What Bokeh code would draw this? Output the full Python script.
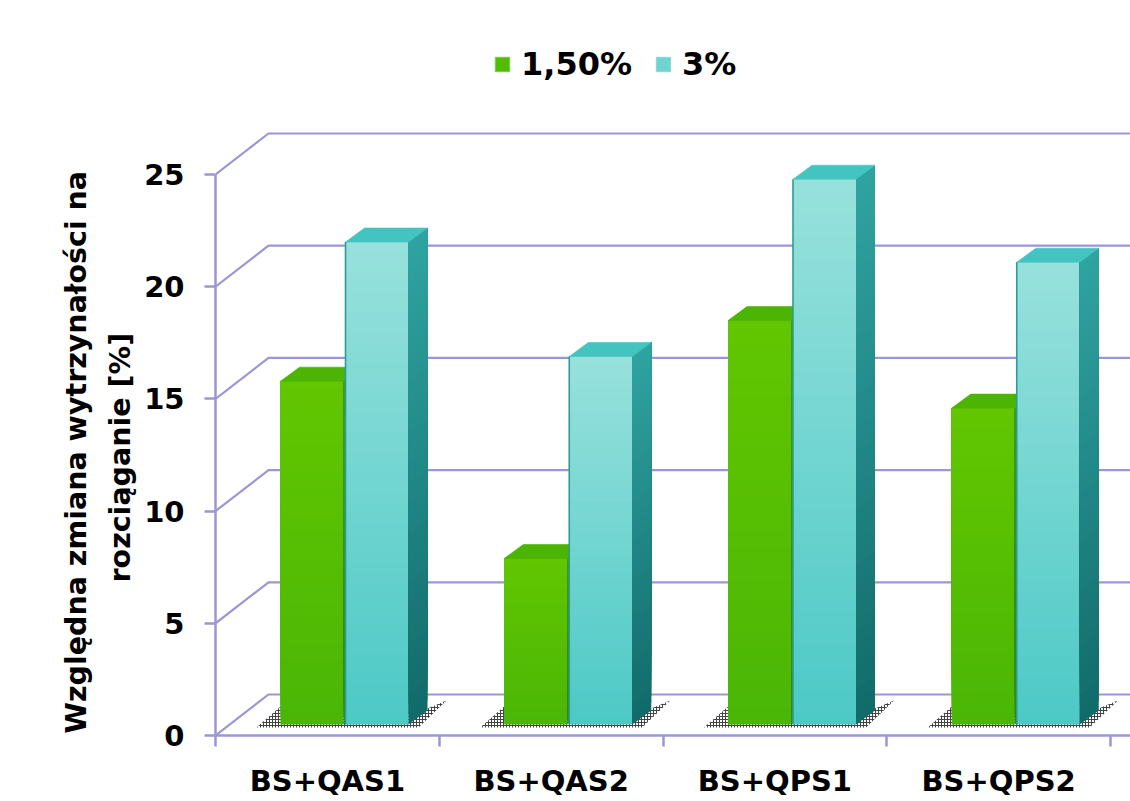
import numpy as np
from bokeh.embed import file_html
from bokeh.resources import INLINE
from bokeh.plotting import figure
from bokeh.models import (ColumnDataSource, FixedTicker, Legend, LegendItem,
                          LinearAxis, Range1d, Title)

categories = ["BS+QAS1", "BS+QAS2", "BS+QPS1", "BS+QPS2"]
series_names = ["1,50%", "3%"]
values_low = [15.3, 7.4, 18.0, 14.1]
values_high = [21.5, 16.4, 24.3, 20.6]
y_ticks = [0, 5, 10, 15, 20, 25]

AXIS = "#9b97d6"
W, H = 1130, 801
LEFT, BOTTOM = 215, 66
UX, UY = 223.75, 22.44          # pixels per category / per value unit
frame_w, frame_h = W - LEFT, H - BOTTOM

p = figure(width=W, height=H, output_backend="svg", toolbar_location=None,
           x_range=Range1d(0, frame_w / UX), y_range=Range1d(0, frame_h / UY),
           x_axis_type=None, y_axis_type=None,
           min_border_left=LEFT, min_border_bottom=BOTTOM, min_border_top=0, min_border_right=0,
           outline_line_color=None, background_fill_color="white", border_fill_color="white")
p.grid.visible = False

# Chart depth of the box and of the bars, in data units
WALL_DX, WALL_DY = 53 / UX, 41 / UY
BAR_DX, BAR_DY = 19 / UX, 14 / UY
BASE_DY = 11 / UY
OFFSET_LOW, OFFSET_HIGH = 65 / UX, 130 / UX
BAR_W = 63 / UX

# Back wall lines and the diagonals running to the front
x_end = frame_w / UX
for t in y_ticks:
    p.line([0, WALL_DX, x_end], [t, t + WALL_DY, t + WALL_DY], line_color=AXIS, line_width=2.2)


def hexmix(a, b, f):
    ca = [int(a[i:i + 2], 16) for i in (1, 3, 5)]
    cb = [int(b[i:i + 2], 16) for i in (1, 3, 5)]
    return "#%02x%02x%02x" % tuple(round(u + (v - u) * f) for u, v in zip(ca, cb))


def floor_shadow(i):
    x0 = i + OFFSET_LOW
    x1 = i + OFFSET_HIGH + BAR_W
    y0 = BASE_DY
    xs = [x0 - 24 / UX, x0, x1 + BAR_DX, x1 + 38 / UX, x1 + 10 / UX]
    ys = [y0 - 3 / UY, y0 + 18 / UY, y0 + 16 / UY, y0 + 24 / UY, y0 - 3 / UY]
    p.patch(xs, ys, fill_alpha=0, line_alpha=0, hatch_pattern="cross", hatch_color="#444444",
            hatch_scale=3, hatch_weight=1)


def bar(x0, v, front, side, top_col, edge=None):
    """Draw one bar: overlapping shaded bands on front and side, then the top face."""
    n = 48
    levels = np.linspace(0, v, n + 1)
    f = np.linspace(0, 1, n)     # 0 at the foot of the bar, 1 at the head
    yt = BASE_DY + v
    xr = x0 + BAR_W
    fc = [hexmix(front[0], front[1], t) for t in f]
    src = ColumnDataSource(dict(left=[x0] * n, right=[xr] * n,
                                bottom=BASE_DY + levels[:-1], top=[yt] * n, c=fc))
    p.quad(left="left", right="right", bottom="bottom", top="top", source=src,
           fill_color="c", line_color=None)
    sc = [hexmix(side[0], side[1], t) for t in f]
    xs = [[xr, xr + BAR_DX, xr + BAR_DX, xr] for _ in range(n)]
    ys = [[BASE_DY + levels[k], BASE_DY + levels[k] + BAR_DY, yt + BAR_DY, yt] for k in range(n)]
    p.patches(xs, ys, fill_color=sc, line_color=None)
    p.patch([x0, xr, xr + BAR_DX, x0 + BAR_DX], [yt, yt, yt + BAR_DY, yt + BAR_DY],
            fill_color=top_col, line_color=top_col, line_width=0.6)
    if edge:
        p.line([x0, x0], [BASE_DY, yt], line_color=edge, line_width=1.6)


for i in range(len(categories)):
    floor_shadow(i)
for i in range(len(categories)):
    bar(i + OFFSET_LOW, values_low[i], ("#4ab606", "#62c600"),
        ("#2e8a08", "#3fa004"), "#4cb402")
    bar(i + OFFSET_HIGH, values_high[i], ("#4dc9c6", "#97e1dc"),
        ("#126b6b", "#2fa3a0"), "#44c4c0", edge="#2c9c98")

# Swatches for the legend: a row that falls outside the visible range, only the colour shows
swatch_low = p.quad(left=[-9], right=[-8], bottom=[0], top=[1], fill_color="#52bc02", line_color="#7cc850")
swatch_high = p.quad(left=[-9], right=[-8], bottom=[0], top=[1], fill_color="#6fd3cf", line_color="#8ad8d4")

# Axes
yaxis = LinearAxis(ticker=FixedTicker(ticks=y_ticks), bounds=(0, 25))
yaxis.axis_line_color = AXIS
yaxis.axis_line_width = 2.5
yaxis.major_tick_line_color = AXIS
yaxis.major_tick_line_width = 2.5
yaxis.major_tick_in = 0
yaxis.major_tick_out = 11
yaxis.minor_tick_line_color = None
yaxis.major_label_text_font = "DejaVu Sans"
yaxis.major_label_text_font_style = "bold"
yaxis.major_label_text_font_size = "29px"
yaxis.major_label_text_color = "black"
yaxis.major_label_standoff = 20
p.add_layout(yaxis, "left")

xaxis = LinearAxis(ticker=FixedTicker(ticks=[i + 0.5 for i in range(len(categories))],
                                      minor_ticks=list(range(len(categories) + 1))))
xaxis.major_label_overrides = {i + 0.5: c for i, c in enumerate(categories)}
xaxis.axis_line_color = AXIS
xaxis.axis_line_width = 2.5
xaxis.major_tick_line_color = None
xaxis.major_tick_out = 11
xaxis.minor_tick_line_color = AXIS
xaxis.minor_tick_line_width = 2.5
xaxis.minor_tick_in = 0
xaxis.minor_tick_out = 11
xaxis.major_label_text_font = "DejaVu Sans"
xaxis.major_label_text_font_style = "bold"
xaxis.major_label_text_font_size = "29px"
xaxis.major_label_text_color = "black"
xaxis.major_label_standoff = 17
p.add_layout(xaxis, "below")

# Two-line value-axis title: each line is a title in the left panel, measured from the axis foot
for text, shift, gap in (("rozciąganie [%]", 153, 10), ("Względna zmiana wytrzynałości na", 2, 7)):
    p.add_layout(Title(text=text, align="left", offset=shift, standoff=gap,
                       text_font="DejaVu Sans", text_font_style="bold", text_font_size="28.5px",
                       text_color="black"), "left")

legend = Legend(items=[LegendItem(label=series_names[0], renderers=[swatch_low]),
                       LegendItem(label=series_names[1], renderers=[swatch_high])],
                orientation="horizontal", location=(278, 652), border_line_color=None,
                background_fill_alpha=0, label_text_font="DejaVu Sans", label_text_font_style="bold",
                label_text_font_size="32px", label_text_color="black", glyph_width=18, glyph_height=18,
                spacing=22, label_standoff=10, margin=0, padding=0)
p.add_layout(legend, "center")

open("out.html", "w").write(file_html(p, INLINE))
